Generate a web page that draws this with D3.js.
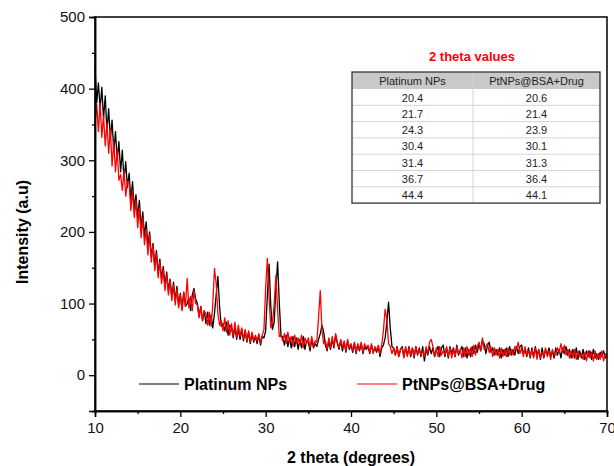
<!DOCTYPE html>
<html>
<head>
<meta charset="utf-8">
<script src="https://cdn.jsdelivr.net/npm/d3@7"></script>
<style>
  body { margin: 0; background: #fff; }
  svg { display: block; font-family: "Liberation Sans", Arial, sans-serif; }
</style>
</head>
<body>
<div class="canva"></div>
<script>
// 2 theta grid: 10 to 70 deg, one reading every 0.2 deg
const thetaStart = 10, thetaStep = 0.2;

// Platinum NPs (black)
const platinum = [
  430, 380, 408, 372, 402,  358, 390, 340, 372, 330,  356, 312, 340, 300, 326,
  284, 314, 272, 298, 262,  282, 244, 270, 232, 252,  220, 244, 206, 228, 194,
  214, 180, 200, 164, 184,  152, 174, 142, 162, 134,  152, 124, 144, 118, 134,
  108, 130, 104, 124, 98,   114, 92, 116, 96, 100,    108, 90, 112, 121, 106,
  100, 82, 96, 76, 90,      72, 88, 70, 84, 66,       86, 112, 138, 96, 68,
  72, 62, 74, 56, 70,       66, 52, 68, 50, 64,       50, 64, 48, 62, 46,
  60, 44, 58, 46, 54,       44, 56, 42, 54, 52,       62, 112, 155, 96, 64,
  74, 122, 158, 100, 54,    54, 42, 56, 40, 52,       38, 54, 40, 52, 36,
  50, 38, 54, 36, 48,       46, 34, 50, 38, 44,       40, 50, 58, 70, 60,
  42, 34, 48, 36, 50,       38, 56, 44, 36, 48,       34, 46, 32, 48, 36,
  42, 32, 44, 30, 42,       34, 44, 30, 40, 36,       40, 30, 42, 32, 38,
  32, 40, 26, 38, 42,       52, 74, 102, 66, 40,      38, 28, 40, 26, 36,
  40, 26, 38, 28, 40,       26, 38, 24, 40, 28,       38, 26, 40, 20, 36,
  28, 40, 30, 38, 26,       34, 40, 26, 38, 42,       26, 38, 24, 40, 30,
  38, 26, 42, 28, 34,       40, 26, 38, 24, 36,       26, 40, 30, 42, 32,
  44, 34, 48, 44, 30,       42, 46, 32, 38, 28,       36, 28, 38, 24, 36,
  28, 38, 26, 40, 28,       36, 28, 40, 30, 40,       42, 30, 36, 26, 38,
  24, 38, 26, 40, 28,       36, 22, 38, 24, 36,       28, 38, 26, 34, 24,
  38, 28, 36, 24, 38,       30, 40, 28, 36, 24,       36, 24, 38, 22, 34,
  24, 36, 22, 34, 26,       34, 22, 36, 24, 30,       22, 32, 26, 34, 24,
  30
];

// PtNPs@BSA+Drug (red)
const drug = [
  352, 378, 340, 380, 332,  362, 320, 352, 310, 344,  292, 326, 284, 314, 272,
  280, 258, 286, 250, 270,  270, 230, 258, 220, 244,  206, 234, 192, 220, 182,
  204, 168, 196, 158, 182,  146, 170, 136, 158, 128,  148, 118, 142, 112, 132,
  104, 126, 98, 120, 94,    112, 90, 116, 96, 135,    94, 110, 90, 118, 100,
  98, 80, 96, 76, 90,       86, 70, 88, 68, 98,       149, 128, 86, 70, 76,
  62, 80, 60, 76, 56,       72, 54, 74, 52, 70,       54, 66, 50, 64, 48,
  62, 46, 60, 48, 56,       48, 58, 44, 56, 64,       122, 163, 108, 66, 72,
  100, 139, 92, 54, 56,     48, 58, 44, 60, 46,       54, 40, 56, 44, 52,
  42, 56, 38, 52, 44,       52, 38, 54, 40, 48,       46, 82, 118, 62, 44,
  48, 36, 52, 38, 54,       40, 58, 46, 38, 50,       38, 48, 34, 50, 38,
  44, 34, 46, 32, 44,       36, 46, 32, 44, 38,       42, 32, 44, 30, 40,
  34, 42, 30, 42, 62,       92, 78, 44, 40, 30,       38, 28, 40, 26, 36,
  38, 24, 40, 26, 38,       28, 38, 26, 40, 30,       36, 28, 34, 26, 40,
  30, 46, 50, 40, 26,       38, 26, 40, 28, 34,       28, 40, 26, 38, 24,
  36, 26, 40, 30, 36,       24, 38, 26, 40, 28,       38, 26, 42, 28, 40,
  46, 34, 52, 36, 40,       44, 32, 40, 26, 38,       28, 36, 24, 38, 26,
  36, 26, 38, 28, 36,       28, 40, 36, 46, 30,       38, 26, 40, 28, 34,
  26, 36, 24, 38, 22,       36, 24, 32, 26, 38,       26, 34, 22, 36, 28,
  28, 38, 32, 44, 32,       42, 28, 36, 24, 34,       24, 36, 22, 34, 26,
  30, 22, 32, 20, 34,       24, 32, 20, 34, 22,       30, 22, 34, 20, 30,
  24
];

const seriesNames = ["Platinum NPs", "PtNPs@BSA+Drug"];
const seriesColors = ["#000000", "#ff0000"];

// inset table
const tableTitle = "2 theta values";
const peaksPlatinum = ["20.4", "21.7", "24.3", "30.4", "31.4", "36.7", "44.4"];
const peaksDrug = ["20.6", "21.4", "23.9", "30.1", "31.3", "36.4", "44.1"];

const xTicks = [10, 20, 30, 40, 50, 60, 70];
const yTicks = [0, 100, 200, 300, 400, 500];

const svg = d3.select(".canva").append("svg")
  .attr("width", 614)
  .attr("height", 466);

const x = d3.scaleLinear().domain([10, 70]).range([95, 607]);
const y = d3.scaleLinear().domain([-50, 500]).range([411, 17]);

const toPoints = arr => arr.map((v, i) => [thetaStart + i * thetaStep, v]);

const line = d3.line()
  .x(d => x(d[0]))
  .y(d => y(d[1]));

// plot lines
const plot = svg.append("g");
[platinum, drug].forEach((arr, k) => {
  plot.append("path")
    .datum(toPoints(arr))
    .attr("fill", "none")
    .attr("stroke", seriesColors[k])
    .attr("stroke-width", 1.3)
    .attr("stroke-linejoin", "round")
    .attr("d", line);
});

// frame
svg.append("rect")
  .attr("x", x(10)).attr("y", y(500))
  .attr("width", x(70) - x(10)).attr("height", y(-50) - y(500))
  .attr("fill", "none").attr("stroke", "#000").attr("stroke-width", 1.5);

// bottom axis
const xAxis = svg.append("g")
  .attr("transform", `translate(0,${y(-50)})`)
  .call(d3.axisBottom(x).tickValues(xTicks).tickSize(6).tickPadding(5).tickFormat(d3.format("d")));
const xMinor = svg.append("g")
  .attr("transform", `translate(0,${y(-50)})`)
  .call(d3.axisBottom(x).tickValues([15, 25, 35, 45, 55, 65]).tickSize(3).tickFormat(""));

// left axis
const yAxis = svg.append("g")
  .attr("transform", `translate(${x(10)},0)`)
  .call(d3.axisLeft(y).tickValues(yTicks).tickSize(6).tickPadding(4).tickFormat(d3.format("d")));
const yMinor = svg.append("g")
  .attr("transform", `translate(${x(10)},0)`)
  .call(d3.axisLeft(y).tickValues([-50, 50, 150, 250, 350, 450]).tickSize(3).tickFormat(""));

[xAxis, xMinor, yAxis, yMinor].forEach(g => {
  g.select(".domain").attr("stroke-width", 1.5);
  g.selectAll(".tick line").attr("stroke-width", 1.3);
  g.selectAll("text")
    .attr("font-family", "Liberation Sans, Arial, sans-serif")
    .attr("font-size", 15)
    .attr("fill", "#111");
});

// axis titles
svg.append("text")
  .attr("x", (x(10) + x(70)) / 2).attr("y", 463)
  .attr("text-anchor", "middle")
  .attr("font-size", 16).attr("font-weight", "bold")
  .text("2 theta (degrees)");

svg.append("text")
  .attr("transform", "translate(28,232) rotate(-90)")
  .attr("text-anchor", "middle")
  .attr("font-size", 16).attr("font-weight", "bold")
  .text("Intensity (a.u)");

// legend
const legend = svg.append("g");
const legendX = [139, 357];
seriesNames.forEach((name, k) => {
  legend.append("line")
    .attr("x1", legendX[k]).attr("x2", legendX[k] + 40)
    .attr("y1", 384).attr("y2", 384)
    .attr("stroke", seriesColors[k]).attr("stroke-width", 1.2);
  legend.append("text")
    .attr("x", legendX[k] + 45).attr("y", 390)
    .attr("font-size", 16).attr("font-weight", "bold")
    .text(name);
});

// inset table
const tbl = svg.append("g");
const tX = 352, tW = 248, tTop = 72, headH = 17, rowH = 16.3, colMid = 473;

tbl.append("text")
  .attr("x", 472).attr("y", 61)
  .attr("text-anchor", "middle")
  .attr("font-size", 13).attr("font-weight", "bold")
  .attr("fill", "#ff0000")
  .text(tableTitle);

tbl.append("rect")
  .attr("x", tX).attr("y", tTop)
  .attr("width", tW).attr("height", headH)
  .attr("fill", "#c9c9c9");

peaksPlatinum.forEach((v, i) => {
  const yy = tTop + headH + (i + 1) * rowH;
  if (i < peaksPlatinum.length - 1) {
    tbl.append("line")
      .attr("x1", tX).attr("x2", tX + tW)
      .attr("y1", yy).attr("y2", yy)
      .attr("stroke", "#d4d4d4").attr("stroke-width", 1);
  }
});

tbl.append("line")
  .attr("x1", colMid).attr("x2", colMid)
  .attr("y1", tTop).attr("y2", tTop + headH + rowH * 7)
  .attr("stroke", "#d4d4d4").attr("stroke-width", 1);

tbl.append("rect")
  .attr("x", tX).attr("y", tTop)
  .attr("width", tW).attr("height", headH + rowH * 7)
  .attr("fill", "none").attr("stroke", "#333").attr("stroke-width", 1.3);

const colCenters = [(tX + colMid) / 2, (colMid + tX + tW) / 2];
seriesNames.forEach((name, k) => {
  tbl.append("text")
    .attr("x", colCenters[k]).attr("y", tTop + 13)
    .attr("text-anchor", "middle")
    .attr("font-size", 11).attr("fill", "#222")
    .text(name);
});

[peaksPlatinum, peaksDrug].forEach((col, k) => {
  col.forEach((v, i) => {
    tbl.append("text")
      .attr("x", colCenters[k])
      .attr("y", tTop + headH + i * rowH + 12.5)
      .attr("text-anchor", "middle")
      .attr("font-size", 11).attr("fill", "#222")
      .text(v);
  });
});
</script>
</body>
</html>
